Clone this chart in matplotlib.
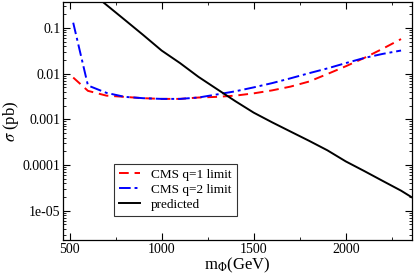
import matplotlib
matplotlib.use("Agg")
import matplotlib.pyplot as plt
from matplotlib.ticker import FixedLocator, FixedFormatter, MultipleLocator

plt.rcParams["font.family"] = ["Liberation Serif", "DejaVu Serif"]
plt.rcParams["mathtext.fontset"] = "stix"

# CMS limits (pb) vs mass (GeV)
mass_q1 = [520, 600, 700, 800, 900, 1000, 1100, 1200, 1300, 1400, 1500,
           1600, 1700, 1800, 1900, 2000, 2100, 2200, 2300]
sigma_q1 = [0.0082, 0.0042, 0.0033, 0.0031, 0.0029, 0.0028, 0.0028, 0.0030,
            0.0031, 0.0033, 0.0037, 0.0043, 0.0052, 0.0067, 0.0098, 0.0145,
            0.022, 0.035, 0.057]

mass_q2 = [520, 600, 700, 800, 900, 1000, 1100, 1200, 1300, 1400, 1500,
           1600, 1700, 1800, 1900, 2000, 2100, 2200, 2300]
sigma_q2 = [0.13, 0.0055, 0.0038, 0.0031, 0.0029, 0.0028, 0.0028, 0.0030,
            0.0035, 0.0041, 0.0050, 0.0062, 0.0079, 0.0102, 0.013, 0.017,
            0.022, 0.027, 0.032]

# predicted cross section
mass_pred = [600, 700, 800, 900, 1000, 1100, 1200, 1300, 1400, 1500, 1600,
             1700, 1800, 1900, 2000, 2100, 2200, 2300, 2360]
sigma_pred = [0.68, 0.32, 0.15, 0.07, 0.032, 0.017, 0.0085, 0.0046, 0.0025,
              0.0014, 8.6e-4, 5.4e-4, 3.4e-4, 2.1e-4, 1.2e-4, 7.4e-5, 4.5e-5,
              2.75e-5, 1.95e-5]

ytick_vals = [1e-5, 1e-4, 1e-3, 1e-2, 1e-1]
ytick_labels = ["1e-05", "0.0001", "0.001", "0.01", "0.1"]

fig = plt.figure(figsize=(4.15, 2.78), dpi=100)
ax = fig.add_axes([0.152, 0.137, 0.841, 0.856])

ax.plot(mass_q1, sigma_q1, color="red", ls=(0, (5, 3)), lw=1.4, label="CMS q=1 limit")
ax.plot(mass_q2, sigma_q2, color="blue", ls=(0, (6, 2, 1.5, 2)), lw=1.4, label="CMS q=2 limit")
ax.plot(mass_pred, sigma_pred, color="black", lw=1.4, label="predicted")

ax.set_yscale("log")
ax.set_xlim(465, 2360)
ax.set_ylim(2.3e-6, 0.37)

ax.xaxis.set_major_locator(MultipleLocator(500))
ax.xaxis.set_minor_locator(MultipleLocator(250))
ax.yaxis.set_major_locator(FixedLocator(ytick_vals))
ax.yaxis.set_major_formatter(FixedFormatter(ytick_labels))
ax.tick_params(which="both", direction="in", top=True, right=True, labelsize=10)
ax.tick_params(which="major", length=5, width=0.8, pad=2)
ax.tick_params(which="minor", length=2.5, width=0.6)
for s in ax.spines.values():
    s.set_linewidth(0.9)

ax.set_xlabel(r"m$_\Phi$(GeV)", fontsize=12, labelpad=0)
ax.set_ylabel(r"$\sigma$ (pb)", fontsize=12, labelpad=1)

leg = ax.legend(loc="lower left", bbox_to_anchor=(0.146, 0.10), fontsize=9.5,
                frameon=True, fancybox=False, handlelength=1.6, handletextpad=0.8,
                borderpad=0.4, labelspacing=0.2, borderaxespad=0)
leg.get_frame().set_edgecolor("black")
leg.get_frame().set_linewidth(0.8)

fig.savefig("out.png", dpi=100)
